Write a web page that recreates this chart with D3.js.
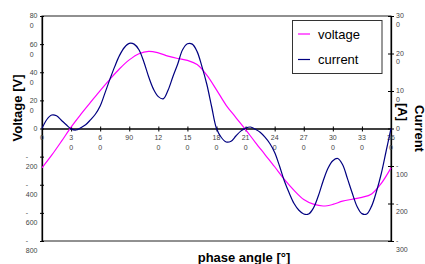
<!DOCTYPE html>
<html>
<head>
<meta charset="utf-8">
<script src="https://cdn.jsdelivr.net/npm/d3@7"></script>
<style>
  body { margin: 0; background: #fff; }
  svg { display: block; font-family: "Liberation Sans", Arial, sans-serif; }
</style>
</head>
<body>
<div id="chart"></div>
<script>
// data
var angleV = [0,10,20,30,40,50,60,70,80,90,100,110,120,130,140,150,160,170,180,
              190,200,210,220,230,240,250,260,270,280,290,300,310,320,330,340,350,360];
var voltage = [-280,-190,-92,10,100,185,270,350,425,488,532,549,538,515,498,484,455,380,275,
               165,78,-8,-98,-185,-272,-362,-440,-505,-538,-551,-540,-517,-503,-490,-465,-390,-280];

var angleI = [0,5,10,15,20,25,30,35,40,45,50,55,60,65,70,75,80,85,90,95,100,105,110,115,120,
              125,130,135,140,145,150,155,160,165,170,175,180,
              185,190,195,200,205,210,215,220,225,230,235,240,245,250,255,260,265,270,275,280,
              285,290,295,300,305,310,315,320,325,330,335,340,345,350,355,360];
var current = [0,24,36,34,22,10,-1,-4,2,10,23,38,60,95,131,165,195,216,227,225,210,178,138,105,85,
               79,102,138,172,210,226,225,205,165,118,58,0,
               -24,-36,-34,-20,-7,1,4,-2,-10,-23,-40,-64,-100,-140,-172,-200,-218,-228,-228,-212,
               -180,-140,-106,-86,-80,-96,-133,-172,-208,-227,-228,-207,-168,-120,-60,0];

var xTicks = [0,30,60,90,120,150,180,210,240,270,300,330,360];
var xTickLabels = [["0"],["3","0"],["6","0"],["90"],["12","0"],["15","0"],["18","0"],
                   ["21","0"],["24","0"],["27","0"],["30","0"],["33","0"],["36","0"]];
var vTicks = [800,600,400,200,0,-200,-400,-600,-800];
var vTickLabels = [["80","0"],["60","0"],["40","0"],["20","0"],["0"],
                   ["-","200"],["-","400"],["-","600"],["-","800"]];
var iTicks = [300,200,100,0,-100,-200,-300];
var iTickLabels = [["30","0"],["20","0"],["10","0"],["0"],["-","100"],["-","200"],["-","300"]];

var seriesNames = ["voltage","current"];
var seriesColors = ["#ff00ff","#000080"];

var svgWidth = 425, svgHeight = 264;
var plot = {left: 42, right: 391, top: 16, bottom: 241};

var svg = d3.select("#chart").append("svg")
  .attr("width", svgWidth)
  .attr("height", svgHeight);

var x = d3.scaleLinear().domain([0, 360]).range([plot.left, plot.right]);
var yV = d3.scaleLinear().domain([-800, 800]).range([plot.bottom, plot.top]);
var yI = d3.scaleLinear().domain([-300, 300]).range([plot.bottom, plot.top]);

// plot frame
svg.append("rect")
  .attr("x", plot.left).attr("y", plot.top)
  .attr("width", plot.right - plot.left).attr("height", plot.bottom - plot.top)
  .attr("fill", "none").attr("stroke", "#222").attr("stroke-width", 1);

// x axis on the zero line
var xAxis = svg.append("g")
  .attr("transform", "translate(0," + yV(0) + ")")
  .call(d3.axisBottom(x).tickValues(xTicks).tickSize(3).tickSizeOuter(0).tickFormat(function(){ return ""; }));
xAxis.selectAll(".tick line").attr("y1", -2);

var leftAxis = svg.append("g")
  .attr("transform", "translate(" + plot.left + ",0)")
  .call(d3.axisLeft(yV).tickValues(vTicks).tickSize(2).tickSizeOuter(0).tickFormat(function(){ return ""; }));
leftAxis.selectAll(".tick line").attr("x1", 2);

var rightAxis = svg.append("g")
  .attr("transform", "translate(" + plot.right + ",0)")
  .call(d3.axisRight(yI).tickValues(iTicks).tickSize(3).tickSizeOuter(0).tickFormat(function(){ return ""; }));
rightAxis.selectAll(".tick line").attr("x1", -3);

svg.selectAll(".domain").attr("stroke-width", 1.3);

// wrapped tick labels
var tickFont = 7, tickColor = "#444";

xTicks.forEach(function(t, i) {
  var txt = svg.append("text")
    .attr("text-anchor", "middle")
    .attr("font-size", tickFont).attr("fill", tickColor);
  xTickLabels[i].forEach(function(line, j) {
    txt.append("tspan").attr("x", x(t)).attr("y", yV(0) + 11 + j * 10.5).text(line);
  });
});

vTicks.forEach(function(t, i) {
  var g = svg.append("g");
  var lines = vTickLabels[i];
  var tspans = lines.map(function(line, j) {
    return g.append("text")
      .attr("font-size", tickFont).attr("fill", tickColor)
      .attr("dy", "0.35em")
      .attr("y", yV(t) + j * 10).text(line);
  });
  var w = d3.max(tspans, function(s){ return s.node().getComputedTextLength(); });
  tspans.forEach(function(s){ s.attr("x", 37.5 - w); });
});

iTicks.forEach(function(t, i) {
  iTickLabels[i].forEach(function(line, j) {
    svg.append("text")
      .attr("font-size", tickFont).attr("fill", tickColor)
      .attr("dy", "0.35em")
      .attr("x", 396).attr("y", yI(t) + j * 8.5).text(line);
  });
});

// lines
var lineV = d3.line()
  .x(function(d, i){ return x(angleV[i]); })
  .y(function(d){ return yV(d); })
  .curve(d3.curveCatmullRom.alpha(0.5));
var lineI = d3.line()
  .x(function(d, i){ return x(angleI[i]); })
  .y(function(d){ return yI(d); })
  .curve(d3.curveCatmullRom.alpha(0.5));

svg.append("path").attr("d", lineV(voltage))
  .attr("fill", "none").attr("stroke", seriesColors[0]).attr("stroke-width", 1.2);
svg.append("path").attr("d", lineI(current))
  .attr("fill", "none").attr("stroke", seriesColors[1]).attr("stroke-width", 1.2);

// axis titles
svg.append("text")
  .attr("transform", "translate(22,108) rotate(-90)")
  .attr("text-anchor", "middle")
  .attr("font-size", 13).attr("font-weight", "bold")
  .text("Voltage [V]");

svg.append("text")
  .attr("x", 244).attr("y", 262)
  .attr("text-anchor", "middle")
  .attr("font-size", 13).attr("font-weight", "bold")
  .text("phase angle [°]");

svg.append("text")
  .attr("transform", "translate(415,105) rotate(90)")
  .attr("font-size", 13).attr("font-weight", "bold")
  .text("Current");
svg.append("text")
  .attr("transform", "translate(398,103) rotate(90)")
  .attr("font-size", 13).attr("font-weight", "bold")
  .text("[A]");

// legend
var legend = svg.append("g");
legend.append("rect")
  .attr("x", 292.5).attr("y", 20.5).attr("width", 89.5).attr("height", 53)
  .attr("fill", "#fff").attr("stroke", "#333").attr("stroke-width", 1);
seriesNames.forEach(function(name, i) {
  var cy = 34 + i * 25.5;
  legend.append("line")
    .attr("x1", 298).attr("x2", 310).attr("y1", cy).attr("y2", cy)
    .attr("stroke", seriesColors[i]).attr("stroke-width", 1.2);
  legend.append("text")
    .attr("x", 318).attr("y", cy).attr("dy", "0.35em")
    .attr("font-size", 13)
    .text(name);
});
</script>
</body>
</html>
